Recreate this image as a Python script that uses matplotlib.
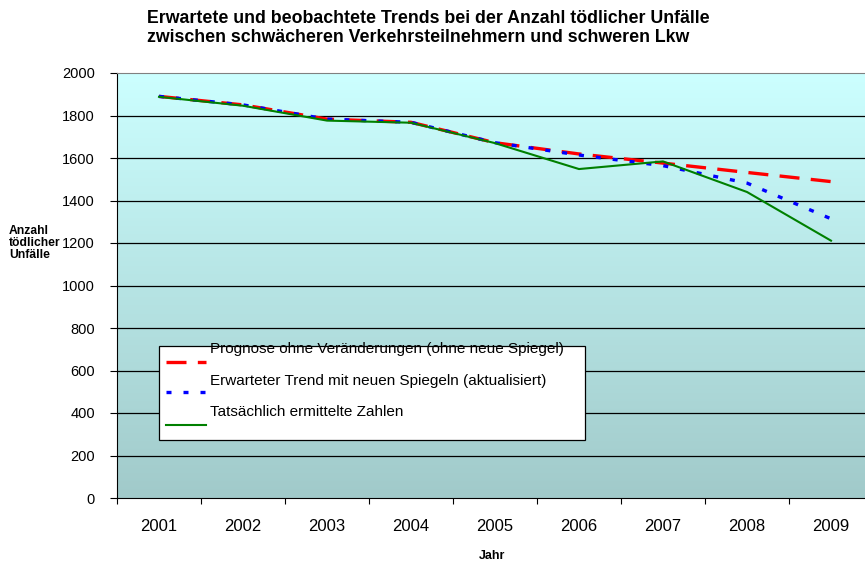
import numpy as np
import matplotlib
matplotlib.use('Agg')
import matplotlib.pyplot as plt
from matplotlib.colors import LinearSegmentedColormap
from matplotlib.lines import Line2D
from matplotlib.patches import Rectangle

plt.rcParams['font.family'] = ['Liberation Sans', 'DejaVu Sans']

#---------Data-----------------
years = ['2001', '2002', '2003', '2004', '2005', '2006', '2007', '2008', '2009']
prognose = [1890, 1850, 1783, 1768, 1672, 1619, 1576, 1532, 1489]
erwartet = [1890, 1850, 1783, 1768, 1672, 1614, 1564, 1482, 1314]
tatsaechlich = [1888, 1846, 1776, 1766, 1670, 1548, 1584, 1440, 1211]

labels = ['Prognose ohne Veränderungen (ohne neue Spiegel)',
          'Erwarteter Trend mit neuen Spiegeln (aktualisiert)',
          'Tatsächlich ermittelte Zahlen']
#------------------------------

W, H = 865, 568
fig = plt.figure(figsize=(W/100, H/100), dpi=100)

def fx(px):
    return px/W

def fy(py):
    return 1-py/H

x0, x1 = 117, 873
y0, y1 = 498, 73
ax = fig.add_axes([fx(x0), fy(y0), (x1-x0)/W, (y0-y1)/H])

x = np.arange(len(years))
ax.set_xlim(-0.5, len(years)-0.5)
ax.set_ylim(0, 2000)

# background gradient
cmap = LinearSegmentedColormap.from_list('bg', ['#a1caca', '#ccffff'])
grad = np.linspace(0, 1, 256).reshape(-1, 1)
ax.imshow(grad, cmap=cmap, origin='lower', aspect='auto',
          extent=[-0.5, len(years)-0.5, 0, 2000], zorder=0)

for v in range(200, 2000, 200):
    ax.axhline(v, color='black', lw=0.9, zorder=1)

red_style = dict(color='#ff0000', lw=2.4, dashes=(6, 3.4), dash_capstyle='butt')
blue_style = dict(color='#0000ff', lw=2.4, dashes=(1.5, 3.6), dash_capstyle='butt')
green_style = dict(color='#008000', lw=1.5)

ax.plot(x, prognose, zorder=3, **red_style)
ax.plot(x, erwartet, zorder=4, **blue_style)
ax.plot(x, tatsaechlich, zorder=5, **green_style)

# axes styling
ax.spines['right'].set_visible(False)
ax.spines['top'].set_color('#808080')
ax.spines['left'].set_color('black')
ax.spines['bottom'].set_color('black')

ax.set_yticks(range(0, 2001, 200))
ax.tick_params(axis='y', direction='out', length=5, width=0.8, labelsize=10.5, pad=11)
ax.set_xticks(x)
ax.set_xticklabels(years)
ax.set_xticks(np.arange(-0.5, len(years), 1), minor=True)
ax.tick_params(axis='x', which='major', length=0, labelsize=12, pad=15)
ax.tick_params(axis='x', which='minor', direction='out', length=4, width=0.8)

# titles / axis labels
fig.text(fx(147), fy(23), 'Erwartete und beobachtete Trends bei der Anzahl tödlicher Unfälle',
         ha='left', va='baseline', fontsize=12.8, fontweight='bold')
fig.text(fx(147), fy(42), 'zwischen schwächeren Verkehrsteilnehmern und schweren Lkw',
         ha='left', va='baseline', fontsize=12.8, fontweight='bold')
for txt, by in zip(['Anzahl', 'tödlicher', 'Unfälle'], [234, 246, 258]):
    fig.text(fx(9), fy(by), txt, ha='left', va='baseline', fontsize=8.7, fontweight='bold')
fig.text(fx(492), fy(559), 'Jahr', ha='center', va='baseline', fontsize=9, fontweight='bold')

# legend box, drawn by hand (text sits above the line samples like in the original)
fig.patches.append(Rectangle((fx(159), fy(440)), (585-159)/W, (440-346)/H,
                             transform=fig.transFigure, facecolor='white',
                             edgecolor='black', lw=0.9, zorder=10))
styles = [red_style, blue_style, green_style]
line_y = [361.5, 391.5, 424.5]
text_y = [353, 385, 416]
for st, ly, ty, lab in zip(styles, line_y, text_y, labels):
    fig.lines.append(Line2D([fx(166), fx(206)], [fy(ly), fy(ly)],
                            transform=fig.transFigure, zorder=11, **st))
    fig.text(fx(210), fy(ty), lab, ha='left', va='baseline', fontsize=11, zorder=12)

fig.savefig('out.png', dpi=100)
